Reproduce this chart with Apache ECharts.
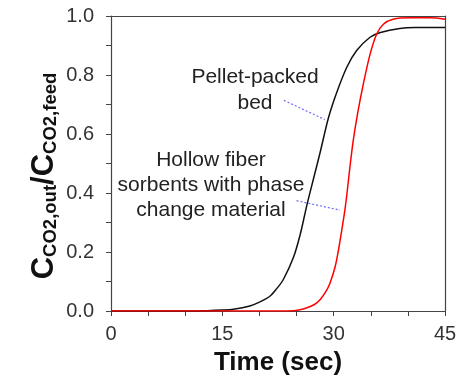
<!DOCTYPE html>
<html>
<head>
<meta charset="utf-8">
<script src="https://cdn.jsdelivr.net/npm/echarts@6/dist/echarts.min.js"></script>
<style>
html,body{margin:0;padding:0;background:#fff;}
#chart{width:468px;height:381px;}
</style>
</head>
<body>
<div id="chart"></div>
<script>
// Pellet-packed bed (black)
var blackTime = [0, 10, 13, 15, 16.5, 18.7, 20, 21.4, 22.3, 23.2, 24.6, 25.5, 26.4, 27.3, 28.2, 29.3, 30.4, 31.8, 33.1, 34.9, 36.3, 38.9, 41, 45];
var blackValue = [0, 0, 0.001, 0.003, 0.006, 0.017, 0.03, 0.05, 0.075, 0.106, 0.183, 0.26, 0.36, 0.45, 0.54, 0.655, 0.74, 0.828, 0.883, 0.928, 0.944, 0.958, 0.961, 0.961];
// Hollow fiber sorbents with phase change material (red)
var redTime = [0, 20, 24.6, 26.4, 27.4, 28.2, 29, 29.5, 30.2, 30.6, 31, 31.5, 31.8, 32.2, 32.65, 33.3, 34, 34.9, 35.8, 36.7, 38, 40.3, 43, 45];
var redValue = [0, 0, 0.001, 0.011, 0.022, 0.039, 0.068, 0.094, 0.15, 0.2, 0.26, 0.34, 0.40, 0.49, 0.58, 0.68, 0.77, 0.87, 0.939, 0.972, 0.989, 0.994, 0.994, 0.989];
// tick labels
var xTickLabels = ['0', '15', '30', '45'];
var yTickLabels = ['0.0', '0.2', '0.4', '0.6', '0.8', '1.0'];
// annotation leader lines (data coords)
var pelletLeader = [[23.3, 0.714], [28.8, 0.649]];
var hollowLeader = [[25.0, 0.374], [30.85, 0.342]];

function zip(a, b) { return a.map(function (v, i) { return [v, b[i]]; }); }

var chart = echarts.init(document.getElementById('chart'), null, {renderer: 'canvas'});
var axisColor = '#444';
var font = 'Liberation Sans, Arial, sans-serif';
var leaderStyle = {color: '#6a6aff', type: [2, 2], width: 1.2};

var frameAxis = {
  axisLine: {show: true, onZero: false, lineStyle: {color: axisColor, width: 1.2}},
  axisTick: {show: false}, axisLabel: {show: false}, splitLine: {show: false}
};

chart.setOption({
  animation: false,
  backgroundColor: '#fff',
  grid: {left: 111, right: 23, top: 16, bottom: 67},
  xAxis: [{
    type: 'value', min: 0, max: 45, interval: 15, position: 'bottom',
    axisLine: {show: true, onZero: false, lineStyle: {color: axisColor, width: 1.2}},
    axisTick: {show: true, length: 5, lineStyle: {color: axisColor, width: 1}},
    minorTick: {show: true, splitNumber: 3, length: 5, lineStyle: {color: axisColor, width: 1}},
    splitLine: {show: false},
    minorSplitLine: {show: false},
    axisLabel: {
      margin: 13, fontSize: 20, color: '#333', fontFamily: font,
      formatter: function (v) { var s = String(Math.round(v)); return xTickLabels.indexOf(s) >= 0 ? s : ''; }
    },
    name: 'Time (sec)', nameLocation: 'middle', nameGap: 39,
    nameTextStyle: {fontSize: 26, fontWeight: 'bold', color: '#111', fontFamily: font}
  }, Object.assign({type: 'value', min: 0, max: 45, position: 'top'}, frameAxis)],
  yAxis: [{
    type: 'value', min: 0, max: 1, interval: 0.2, position: 'left',
    axisLine: {show: true, onZero: false, lineStyle: {color: axisColor, width: 1.2}},
    axisTick: {show: true, length: 5, lineStyle: {color: axisColor, width: 1}},
    minorTick: {show: true, splitNumber: 2, length: 5, lineStyle: {color: axisColor, width: 1}},
    splitLine: {show: false},
    minorSplitLine: {show: false},
    axisLabel: {
      margin: 17, fontSize: 20, color: '#333', fontFamily: font,
      formatter: function (v) { var s = v.toFixed(1); return yTickLabels.indexOf(s) >= 0 ? s : ''; }
    }
  }, Object.assign({type: 'value', min: 0, max: 1, position: 'right'}, frameAxis)],
  graphic: [
    {
      type: 'text', x: 42, y: 176, rotation: Math.PI / 2,
      style: {
        text: '{b|C}{s|CO2,out}{b|/C}{s|CO2,feed}',
        align: 'center', verticalAlign: 'middle',
        fontFamily: font,
        rich: {
          b: {fontSize: 31, fontWeight: 'bold', fill: '#111', fontFamily: font, lineHeight: 36, verticalAlign: 'bottom'},
          s: {fontSize: 18.5, fontWeight: 'bold', fill: '#111', fontFamily: font, lineHeight: 20, verticalAlign: 'bottom'}
        }
      }
    },
    {
      type: 'text', x: 255, y: 90,
      style: {text: 'Pellet-packed\nbed', align: 'center', verticalAlign: 'middle', fontSize: 21, lineHeight: 26, fill: '#222', fontFamily: font}
    },
    {
      type: 'text', x: 211, y: 185,
      style: {text: 'Hollow fiber\nsorbents with phase\nchange material', align: 'center', verticalAlign: 'middle', fontSize: 21, lineHeight: 25, fill: '#222', fontFamily: font}
    }
  ],
  series: [
    {
      type: 'line', xAxisIndex: 0, yAxisIndex: 0, data: zip(blackTime, blackValue), smooth: 0.3, showSymbol: false,
      lineStyle: {color: '#111', width: 1.5}, z: 3,
      markLine: {
        silent: true, symbol: 'none', label: {show: false},
        lineStyle: leaderStyle,
        data: [[{coord: pelletLeader[0]}, {coord: pelletLeader[1]}]]
      }
    },
    {
      type: 'line', xAxisIndex: 0, yAxisIndex: 0, data: zip(redTime, redValue), smooth: 0.3, showSymbol: false,
      lineStyle: {color: '#ff0000', width: 1.5}, z: 3,
      markLine: {
        silent: true, symbol: 'none', label: {show: false},
        lineStyle: leaderStyle,
        data: [[{coord: hollowLeader[0]}, {coord: hollowLeader[1]}]]
      }
    }
  ]
});
</script>
</body>
</html>
